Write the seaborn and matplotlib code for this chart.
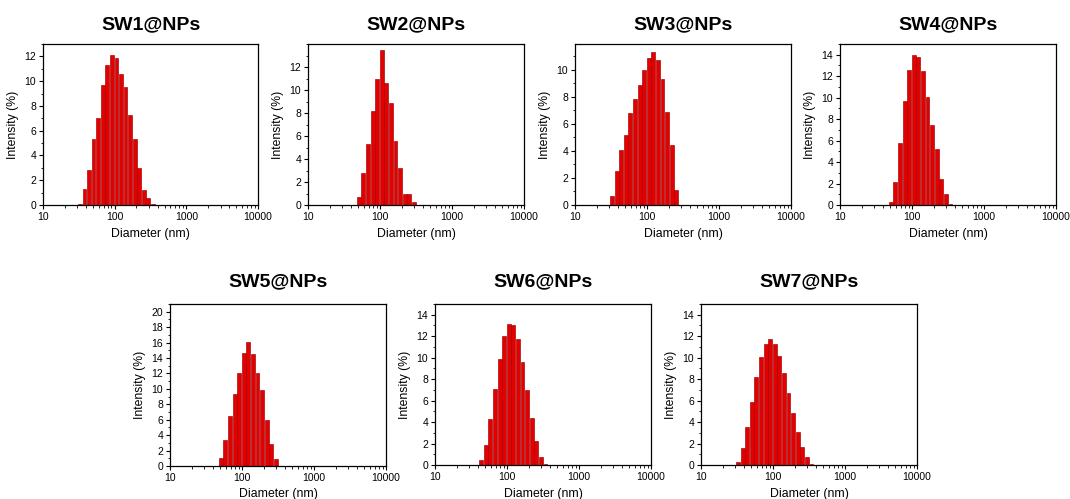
import numpy as np
import pandas as pd
import matplotlib
matplotlib.use("Agg")
import matplotlib.pyplot as plt
from matplotlib.ticker import AutoMinorLocator, FixedLocator, LogLocator, NullFormatter
import seaborn as sns

# ---- data (size classes in nm, intensity in %) ----
sw1_size = [32.67, 37.84, 43.82, 50.75, 58.77, 68.06, 78.82, 91.28, 105.7, 122.4, 141.8, 164.2, 190.1, 220.2, 255.0, 295.3, 342.0]
sw1_int = [0.1, 1.3, 2.8, 5.3, 7.0, 9.7, 11.3, 12.1, 11.9, 10.6, 9.5, 7.3, 5.3, 3.0, 1.2, 0.6, 0.1]

sw2_size = [50.75, 58.77, 68.06, 78.82, 91.28, 105.7, 122.4, 141.8, 164.2, 190.1, 220.2, 255.0, 295.3]
sw2_int = [0.7, 2.8, 5.3, 8.2, 11.0, 13.5, 10.6, 8.9, 5.6, 3.2, 1.0, 1.0, 0.25]

sw3_size = [32.67, 37.84, 43.82, 50.75, 58.77, 68.06, 78.82, 91.28, 105.7, 122.4, 141.8, 164.2, 190.1, 220.2, 255.0]
sw3_int = [0.7, 2.5, 4.1, 5.2, 6.8, 7.8, 8.9, 10.0, 10.9, 11.3, 10.7, 9.3, 6.9, 4.4, 1.1]

sw4_size = [50.75, 58.77, 68.06, 78.82, 91.28, 105.7, 122.4, 141.8, 164.2, 190.1, 220.2, 255.0, 295.3, 342.0]
sw4_int = [0.3, 2.1, 5.8, 9.7, 12.6, 14.0, 13.8, 12.5, 10.1, 7.5, 5.2, 2.4, 1.0, 0.1]

sw5_size = [50.75, 58.77, 68.06, 78.82, 91.28, 105.7, 122.4, 141.8, 164.2, 190.1, 220.2, 255.0, 295.3]
sw5_int = [1.1, 3.4, 6.5, 9.3, 12.0, 14.6, 16.1, 14.5, 12.1, 9.8, 5.9, 2.8, 0.9]

sw6_size = [43.82, 50.75, 58.77, 68.06, 78.82, 91.28, 105.7, 122.4, 141.8, 164.2, 190.1, 220.2, 255.0, 295.3, 342.0]
sw6_int = [0.5, 1.9, 4.3, 7.1, 9.9, 12.0, 13.1, 13.0, 11.7, 9.6, 7.0, 4.4, 2.2, 0.7, 0.05]

sw7_size = [32.67, 37.84, 43.82, 50.75, 58.77, 68.06, 78.82, 91.28, 105.7, 122.4, 141.8, 164.2, 190.1, 220.2, 255.0, 295.3, 342.0]
sw7_int = [0.3, 1.6, 3.5, 5.9, 8.2, 10.1, 11.3, 11.7, 11.3, 10.2, 8.6, 6.7, 4.8, 3.1, 1.7, 0.7, 0.1]

titles = ["SW1@NPs", "SW2@NPs", "SW3@NPs", "SW4@NPs", "SW5@NPs", "SW6@NPs", "SW7@NPs"]
y_max = [13, 14, 11.9, 15, 21, 15, 15]
y_ticks_top = [12, 12, 10, 14, 20, 14, 14]
x_ticks = [10, 100, 1000, 10000]
x_tick_labels = ["10", "100", "1000", "10000"]

series = [(sw1_size, sw1_int), (sw2_size, sw2_int), (sw3_size, sw3_int), (sw4_size, sw4_int),
          (sw5_size, sw5_int), (sw6_size, sw6_int), (sw7_size, sw7_int)]

# ---- style ----
sns.set_theme(style="ticks")
plt.rcParams["font.family"] = ["Liberation Sans", "DejaVu Sans"]
plt.rcParams["axes.linewidth"] = 0.9
plt.rcParams["text.color"] = "black"
plt.rcParams["axes.labelcolor"] = "black"

W, H = 1070, 499
fig = plt.figure(figsize=(W / 100, H / 100), dpi=100)

# axes boxes in pixel coordinates: (left, right, top, bottom)
boxes = [(43, 258, 44, 205), (308, 524, 44, 205), (575, 791, 44, 205), (840, 1056, 44, 205),
         (170, 386, 304, 466), (435, 651, 304, 465), (701, 917, 304, 465)]
title_pads = [10.5, 10.5, 10.5, 10.5, 12.5, 12.5, 12.5]

bin_w = np.log10(1.1581)

for i, ((sz, it), (l, r, t, b)) in enumerate(zip(series, boxes)):
    ax = fig.add_axes([l / W, 1 - b / H, (r - l) / W, (b - t) / H])
    df = pd.DataFrame({"size": sz, "intensity": it})
    lo = np.log10(sz[0]) - bin_w / 2
    hi = np.log10(sz[-1]) + bin_w / 2
    sns.histplot(data=df, x="size", weights="intensity", log_scale=True,
                 binwidth=bin_w, binrange=(lo, hi), shrink=0.84,
                 color="#e30000", edgecolor="#a00000", linewidth=0.45, alpha=1.0, ax=ax)
    ax.set_xlim(10, 10000)
    ax.set_ylim(0, y_max[i])
    ax.xaxis.set_major_locator(FixedLocator(x_ticks))
    ax.set_xticklabels(x_tick_labels)
    ax.xaxis.set_minor_locator(LogLocator(base=10, subs=np.arange(2, 10)))
    ax.xaxis.set_minor_formatter(NullFormatter())
    ax.set_yticks(np.arange(0, y_ticks_top[i] + 1, 2))
    ax.yaxis.set_minor_locator(AutoMinorLocator(2))
    ax.tick_params(axis="both", which="major", direction="out", length=3, width=0.8,
                   labelsize=7.5, pad=2, colors="black")
    ax.tick_params(axis="both", which="minor", direction="out", length=1.8, width=0.6, colors="black")
    for s in ax.spines.values():
        s.set_visible(True)
        s.set_color("black")
    ax.set_xlabel("Diameter (nm)", fontsize=8.8, labelpad=4, color="black")
    ax.set_ylabel("Intensity (%)", fontsize=8.8, labelpad=4, color="black")
    ax.set_title(titles[i], fontsize=14, fontweight="bold", pad=title_pads[i], color="black")

fig.savefig("out.png", dpi=100, facecolor="white")
